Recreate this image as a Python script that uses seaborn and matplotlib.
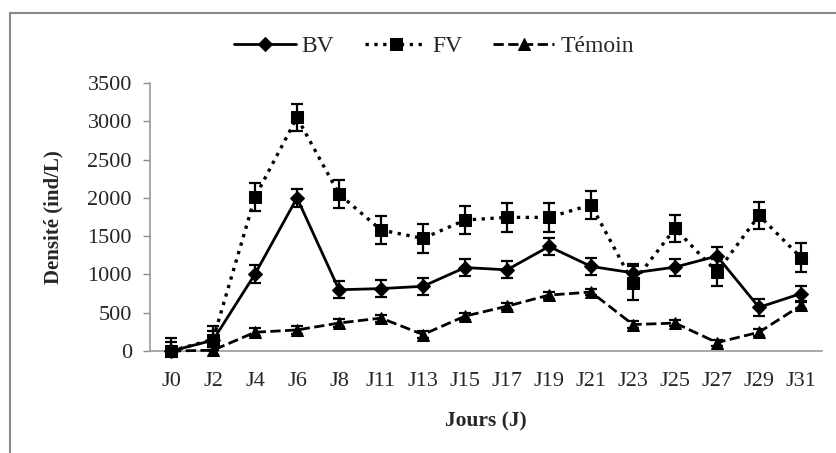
import numpy as np
import pandas as pd
import matplotlib
matplotlib.use("Agg")
import matplotlib.pyplot as plt
import seaborn as sns
from matplotlib.patches import Rectangle

days = ["J0", "J2", "J4", "J6", "J8", "J11", "J13", "J15", "J17", "J19", "J21", "J23", "J25", "J27", "J29", "J31"]
bv = [0, 140, 1005, 2000, 800, 815, 845, 1090, 1060, 1365, 1105, 1020, 1095, 1240, 570, 750]
bv_err = [120, 125, 115, 120, 113, 113, 113, 113, 113, 113, 113, 110, 110, 120, 115, 100]
fv = [0, 150, 2010, 3050, 2050, 1580, 1470, 1710, 1745, 1745, 1910, 890, 1600, 1030, 1770, 1220]
fv_err = [175, 175, 180, 180, 185, 180, 185, 180, 185, 190, 180, 225, 175, 175, 180, 185]
temoin = [0, 10, 245, 275, 365, 430, 215, 455, 585, 730, 770, 345, 365, 110, 245, 595]
temoin_err = [40, 40, 55, 50, 50, 45, 45, 45, 45, 45, 40, 45, 45, 40, 45, 45]

sns.set_theme(style="white")
plt.rcParams['font.family'] = ['Liberation Serif', 'DejaVu Serif']

fig = plt.figure(figsize=(8.37, 4.53), dpi=100)
ax = fig.add_axes([150/837, 1-351/453, (822-150)/837, (351-83)/453])

# Figure frame
fig.patches.append(Rectangle((10/837, -0.05), 1.2, 1-13/453 + 0.05, transform=fig.transFigure,
                             fill=False, edgecolor='#8a8a8a', linewidth=1.5))

idx = np.arange(len(days))
series = [
    ("BV", bv, bv_err, "-", "D", 7.5),
    ("FV", fv, fv_err, ":", "s", 8),
    ("Témoin", temoin, temoin_err, "--", "^", 8.5),
]
for name, vals, err, ls, mk, ms in series:
    ax.errorbar(idx, vals, yerr=err, fmt='none', ecolor='black', elinewidth=1.6,
                capsize=4.5, capthick=1.6, clip_on=True, zorder=3)
    df = pd.DataFrame({"x": idx, "y": vals})
    sns.lineplot(data=df, x="x", y="y", ax=ax, color='black', linestyle=ls,
                 linewidth=2.0 if ls != ":" else 2.4, marker=mk, markersize=ms,
                 markeredgecolor='black', markerfacecolor='black', label=name,
                 clip_on=False, zorder=4)

ax.set_xlim(-0.5, len(days) - 0.5)
ax.set_ylim(0, 3500)
ax.set_yticks(np.arange(0, 3501, 500))
ax.set_xticks(idx)
ax.set_xticklabels(days)
ax.tick_params(axis='x', length=0, pad=15, labelsize=16)
ax.tick_params(axis='y', length=5, width=1, color='#8a8a8a', left=True, pad=8, labelsize=16)
for s in ['top', 'right']:
    ax.spines[s].set_visible(False)
for s in ['left', 'bottom']:
    ax.spines[s].set_color('#9a9a9a')
    ax.spines[s].set_linewidth(1.2)

ax.set_xlabel("Jours (J)", fontsize=15.5, fontweight='bold', labelpad=15)
ax.set_ylabel("Densité (ind/L)", fontsize=15, fontweight='bold', labelpad=17)

leg = ax.legend(loc='upper center', ncol=3, frameon=False, fontsize=17, handlelength=2.6,
                columnspacing=1.3, handletextpad=0.25, borderaxespad=0)
leg.set_bbox_to_anchor((434/837, 1 - 26/453), transform=fig.transFigure)

fig.savefig("out.png", dpi=100, facecolor='white')
